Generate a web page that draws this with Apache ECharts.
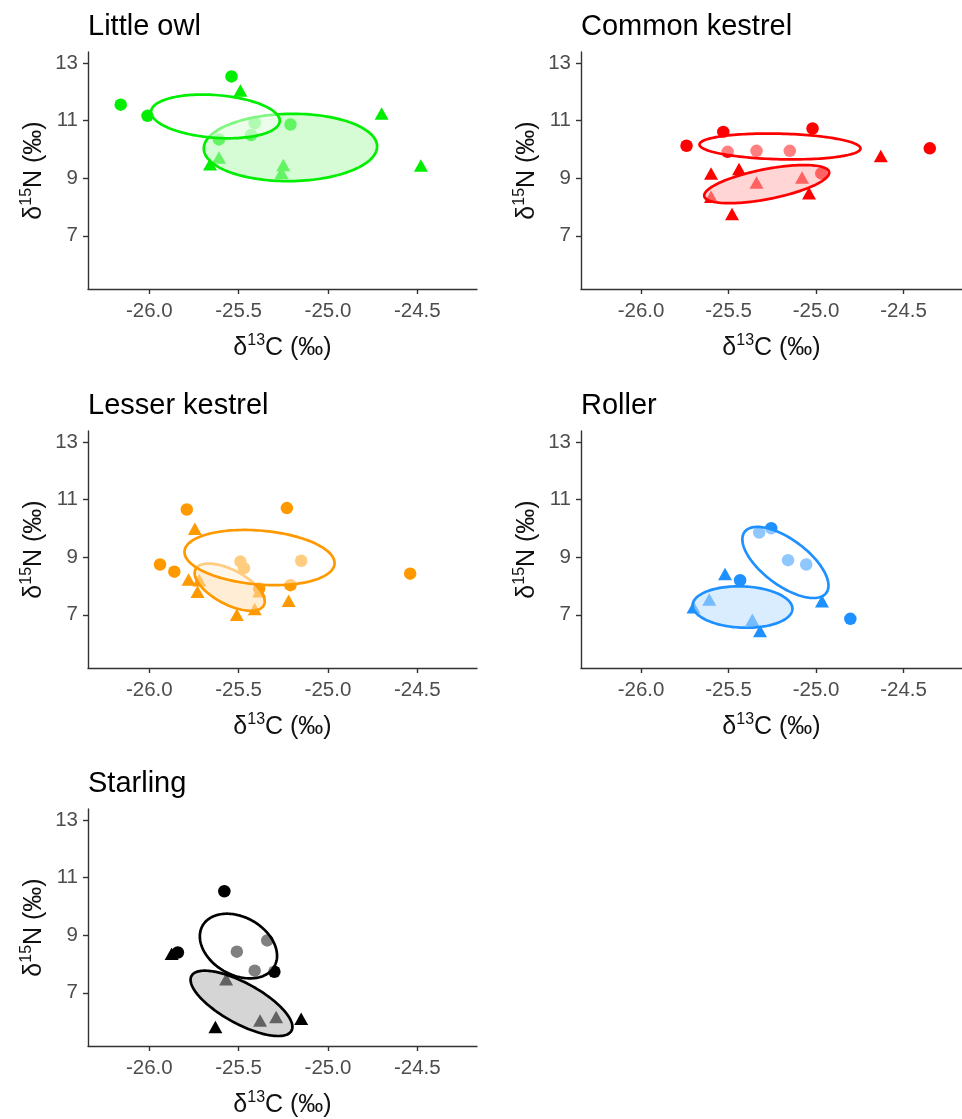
<!DOCTYPE html>
<html><head><meta charset="utf-8">
<script src="https://cdn.jsdelivr.net/npm/echarts@6/dist/echarts.min.js"></script>
<style>html,body{margin:0;padding:0;background:#fff}#c{width:962px;height:1119px}</style>
</head><body><div id="c"></div>
<script>
// ---------- data ----------
const panelTitles = ['Little owl', 'Common kestrel', 'Lesser kestrel', 'Roller', 'Starling'];
const xTicks = [-26.0, -25.5, -25.0, -24.5];
const yTicks = [7, 9, 11, 13];

// [d13C, d15N]
const owlCircles = [[-26.16,11.56],[-26.01,11.17],[-25.54,12.54],[-25.41,10.92],[-25.43,10.50],[-25.61,10.35],[-25.21,10.87]];
const owlTriangles = [[-25.49,12.05],[-24.70,11.25],[-24.48,9.44],[-25.61,9.72],[-25.66,9.49],[-25.25,9.46],[-25.26,9.19]];
const kesCircles = [[-25.74,10.13],[-25.53,10.61],[-25.505,9.92],[-25.34,9.955],[-25.15,9.955],[-25.02,10.73],[-24.97,9.17],[-24.35,10.04]];
const kesTriangles = [[-25.60,9.17],[-25.44,9.32],[-25.34,8.85],[-25.08,9.03],[-25.04,8.48],[-24.63,9.77],[-25.48,7.76],[-25.60,8.36]];
const lkCircles = [[-25.79,10.66],[-25.23,10.71],[-25.94,8.75],[-25.86,8.50],[-25.49,8.85],[-25.47,8.62],[-25.15,8.88],[-25.21,8.03],[-24.54,8.43],[-25.385,7.91]];
const lkTriangles = [[-25.745,9.99],[-25.78,8.23],[-25.72,8.20],[-25.73,7.80],[-25.51,7.00],[-25.41,7.20],[-25.385,7.82],[-25.22,7.49]];
const rolCircles = [[-25.325,9.86],[-25.256,10.01],[-25.16,8.90],[-25.056,8.75],[-25.434,8.20],[-24.804,6.86]];
const rolTriangles = [[-25.52,8.42],[-25.61,7.53],[-25.70,7.26],[-25.364,6.83],[-25.32,6.44],[-24.966,7.47]];
const staCircles = [[-25.58,10.53],[-25.51,8.43],[-25.41,7.77],[-25.34,8.82],[-25.30,7.73],[-25.84,8.40]];
const staTriangles = [[-25.875,8.36],[-25.57,7.47],[-25.63,5.81],[-25.38,6.04],[-25.29,6.16],[-25.15,6.10]];

// standard ellipses: [centre x, centre y, half-width x, half-height y, correlation]
const owlEllipseOpen = [-25.63, 11.15, 0.36, 0.76, -0.2];
const owlEllipseFill = [-25.21, 10.07, 0.485, 1.17, 0.03];
const kesEllipseOpen = [-25.206, 10.105, 0.46, 0.45, -0.15];
const kesEllipseFill = [-25.282, 8.796, 0.357, 0.663, 0.6];
const lkEllipseOpen = [-25.383, 8.99, 0.42, 0.96, -0.2];
const lkEllipseFill = [-25.55, 7.96, 0.196, 0.82, -0.6];
const rolEllipseOpen = [-25.175, 8.82, 0.246, 1.237, -0.65];
const rolEllipseFill = [-25.42, 7.27, 0.285, 0.72, -0.08];
const staEllipseOpen = [-25.501, 8.625, 0.216, 1.124, -0.3];
const staEllipseFill = [-25.484, 6.633, 0.285, 1.136, -0.72];

// ---------- layout / style ----------
const circlesByPanel = [owlCircles, kesCircles, lkCircles, rolCircles, staCircles];
const trianglesByPanel = [owlTriangles, kesTriangles, lkTriangles, rolTriangles, staTriangles];
const openByPanel = [owlEllipseOpen, kesEllipseOpen, lkEllipseOpen, rolEllipseOpen, staEllipseOpen];
const fillByPanel = [owlEllipseFill, kesEllipseFill, lkEllipseFill, rolEllipseFill, staEllipseFill];
const colors = [[0,238,0],[255,0,0],[255,153,0],[30,144,255],[0,0,0]];
const grids = [
  {left: 88, top: 52, width: 389, height: 237},
  {left: 581, top: 52, width: 389, height: 237},
  {left: 88, top: 431, width: 389, height: 237},
  {left: 581, top: 431, width: 389, height: 237},
  {left: 88, top: 809, width: 389, height: 237}
];
const FONT = '"Liberation Sans", Arial, sans-serif';
const X_MIN = -26.343, X_MAX = -24.166, Y_MIN = 5.15, Y_MAX = 13.39;

function rgb(c) { return 'rgb(' + c.join(',') + ')'; }
function lightFill(c) { return 'rgba(' + c.map(v => Math.round(255 - (255 - v) * 0.3)).join(',') + ',0.55)'; }

function ellipseRenderer(fill, stroke) {
  return function (params, api) {
    const cx = api.value(0), cy = api.value(1), sx = api.value(2), sy = api.value(3), r = api.value(4);
    const k = Math.sqrt(1 - r * r);
    const pts = [];
    const n = 144;
    for (let i = 0; i < n; i++) {
      const t = 2 * Math.PI * i / n;
      pts.push(api.coord([cx + sx * Math.cos(t), cy + sy * (r * Math.cos(t) + k * Math.sin(t))]));
    }
    return {type: 'polygon', shape: {points: pts}, style: {fill: fill, stroke: stroke, lineWidth: 2.7}};
  };
}

const nameRich = {
  d: {fontSize: 25, lineHeight: 30, fontFamily: FONT, color: '#111'},
  s: {fontSize: 16, lineHeight: 12, verticalAlign: 'top', fontFamily: FONT, color: '#111'},
  m: {fontSize: 25, lineHeight: 30, fontFamily: FONT, color: '#111'}
};

const title = [], xAxis = [], yAxis = [], series = [];
grids.forEach((g, i) => {
  title.push({
    text: panelTitles[i], left: g.left, top: g.top - 40, padding: 0,
    textStyle: {fontSize: 29, fontWeight: 'normal', color: '#000', fontFamily: FONT}
  });
  xAxis.push({
    gridIndex: i, type: 'value', min: X_MIN, max: X_MAX,
    axisLine: {show: true, onZero: false, lineStyle: {color: '#333', width: 1.4}},
    axisTick: {show: true, length: 5, customValues: xTicks, lineStyle: {color: '#333', width: 1.4}},
    axisLabel: {customValues: xTicks, formatter: v => v.toFixed(1), fontSize: 20.5, color: '#4D4D4D', fontFamily: FONT, margin: 12},
    splitLine: {show: false},
    name: '{d|δ}{s|13}{m|C (‰)}', nameLocation: 'middle', nameGap: 44,
    nameTextStyle: {rich: nameRich}
  });
  yAxis.push({
    gridIndex: i, type: 'value', min: Y_MIN, max: Y_MAX,
    axisLine: {show: true, onZero: false, lineStyle: {color: '#333', width: 1.4}},
    axisTick: {show: true, length: 5, customValues: yTicks, lineStyle: {color: '#333', width: 1.4}},
    axisLabel: {customValues: yTicks, fontSize: 20.5, color: '#4D4D4D', fontFamily: FONT, margin: 10},
    splitLine: {show: false},
    name: '{d|δ}{s|15}{m|N (‰)}', nameLocation: 'middle', nameRotate: 90, nameGap: 39,
    nameTextStyle: {rich: nameRich}
  });
  const col = colors[i];
  series.push({
    type: 'scatter', xAxisIndex: i, yAxisIndex: i, data: circlesByPanel[i],
    symbol: 'circle', symbolSize: 12.5, itemStyle: {color: rgb(col), opacity: 1}, z: 2
  });
  series.push({
    type: 'scatter', xAxisIndex: i, yAxisIndex: i, data: trianglesByPanel[i],
    symbol: 'triangle', symbolSize: [14, 12.5], itemStyle: {color: rgb(col), opacity: 1}, z: 2
  });
  series.push({
    type: 'custom', xAxisIndex: i, yAxisIndex: i, data: [fillByPanel[i]],
    dimensions: ['cx', 'cy', 'sx', 'sy', 'r'], encode: {x: 'cx', y: 'cy'},
    renderItem: ellipseRenderer(lightFill(col), rgb(col)), z: 3, silent: true, clip: false
  });
  series.push({
    type: 'custom', xAxisIndex: i, yAxisIndex: i, data: [openByPanel[i]],
    dimensions: ['cx', 'cy', 'sx', 'sy', 'r'], encode: {x: 'cx', y: 'cy'},
    renderItem: ellipseRenderer('rgba(255,255,255,0.5)', rgb(col)), z: 4, silent: true, clip: false
  });
});

const chart = echarts.init(document.getElementById('c'), null, {renderer: 'canvas'});
chart.setOption({
  animation: false,
  backgroundColor: '#fff',
  title: title,
  grid: grids,
  xAxis: xAxis,
  yAxis: yAxis,
  series: series
});
</script></body></html>
